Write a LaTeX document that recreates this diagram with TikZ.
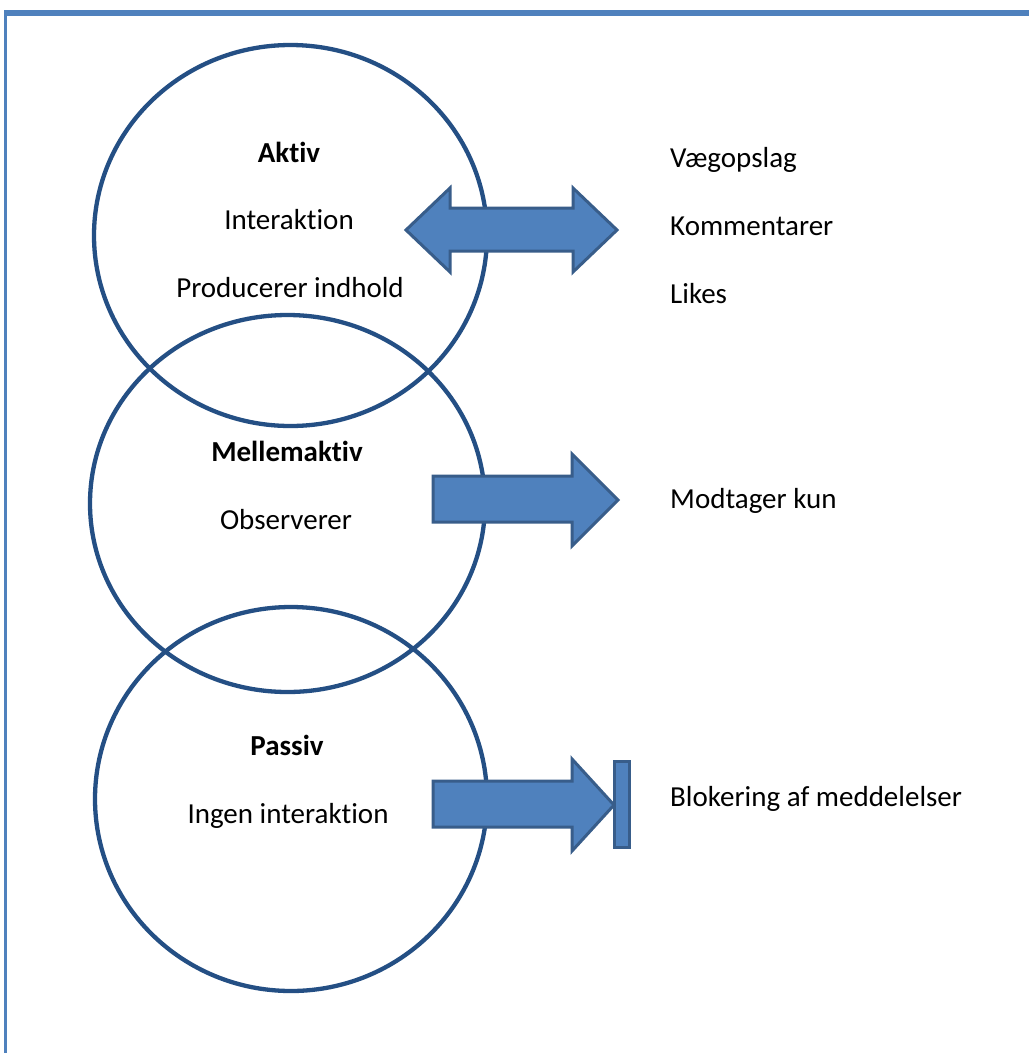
\documentclass[tikz,border=0pt]{standalone}
\usepackage{fontspec}
\setmainfont{Carlito}[Ligatures=NoCommon]
\definecolor{framecol}{RGB}{79,129,189}
\definecolor{circcol}{RGB}{36,79,132}
\definecolor{arrfill}{RGB}{79,129,189}
\definecolor{arrdraw}{RGB}{56,93,138}
\begin{document}
\begin{tikzpicture}[x=1pt,y=-1pt,
  ring/.style={draw=circcol,line width=4.3pt},
  blockarrow/.style={fill=arrfill,draw=arrdraw,line width=3pt,line join=miter},
  lbl/.style={font=\fontsize{29}{34}\selectfont,anchor=base,inner sep=0pt},
  rlbl/.style={font=\fontsize{29}{34}\selectfont,anchor=base west,inner sep=0pt},
  ttl/.style={lbl,font=\fontsize{29}{34}\selectfont\bfseries}]
\useasboundingbox (0,0) rectangle (1029,1053);
\fill[white] (0,0) rectangle (1029,1053);
% frame
\draw[framecol,line width=5.5pt] (4,13) -- (1029,13);
\draw[framecol,line width=3pt] (5.5,10.5) -- (5.5,1053);
% circles
\draw[ring] (290.5,235.5) ellipse [x radius=196.5, y radius=190.5];
\draw[ring] (287.5,503.5) ellipse [x radius=197.5, y radius=188.5];
\draw[ring] (291,799) ellipse [x radius=196, y radius=192];
% arrows
\draw[blockarrow] (406,230) -- (450,188) -- (450,208) -- (573,208) -- (573,188) -- (617,230)
  -- (573,272) -- (573,251) -- (450,251) -- (450,272) -- cycle;
\draw[blockarrow] (433,476) -- (572,476) -- (572,454) -- (618,500) -- (572,546) -- (572,522) -- (433,522) -- cycle;
\draw[blockarrow] (433,781) -- (572,781) -- (572,759) -- (614,805) -- (572,851) -- (572,827) -- (433,827) -- cycle;
\draw[blockarrow] (614,761) rectangle (629,847);
% texts
\node[ttl] (aktiv) at (289,162) {Aktiv};
\node[lbl] (interaktion) at (289,229) {Interaktion};
\node[lbl] (producerer) at (290,297) {Producerer indhold};
\node[ttl] (mellem) at (287,461) {Mellemaktiv};
\node[lbl] (observerer) at (286,529) {Observerer};
\node[ttl] (passiv) at (287,755) {Passiv};
\node[lbl] (ingen) at (288,823) {Ingen interaktion};
\node[rlbl] (vaeg) at (670,167) {Vægopslag};
\node[rlbl] (komm) at (670,235) {Kommentarer};
\node[rlbl] (likes) at (670,303) {Likes};
\node[rlbl] (modtager) at (670,508) {Modtager kun};
\node[rlbl] (blok) at (670,806) {Blokering af meddelelser};
\end{tikzpicture}
\end{document}
